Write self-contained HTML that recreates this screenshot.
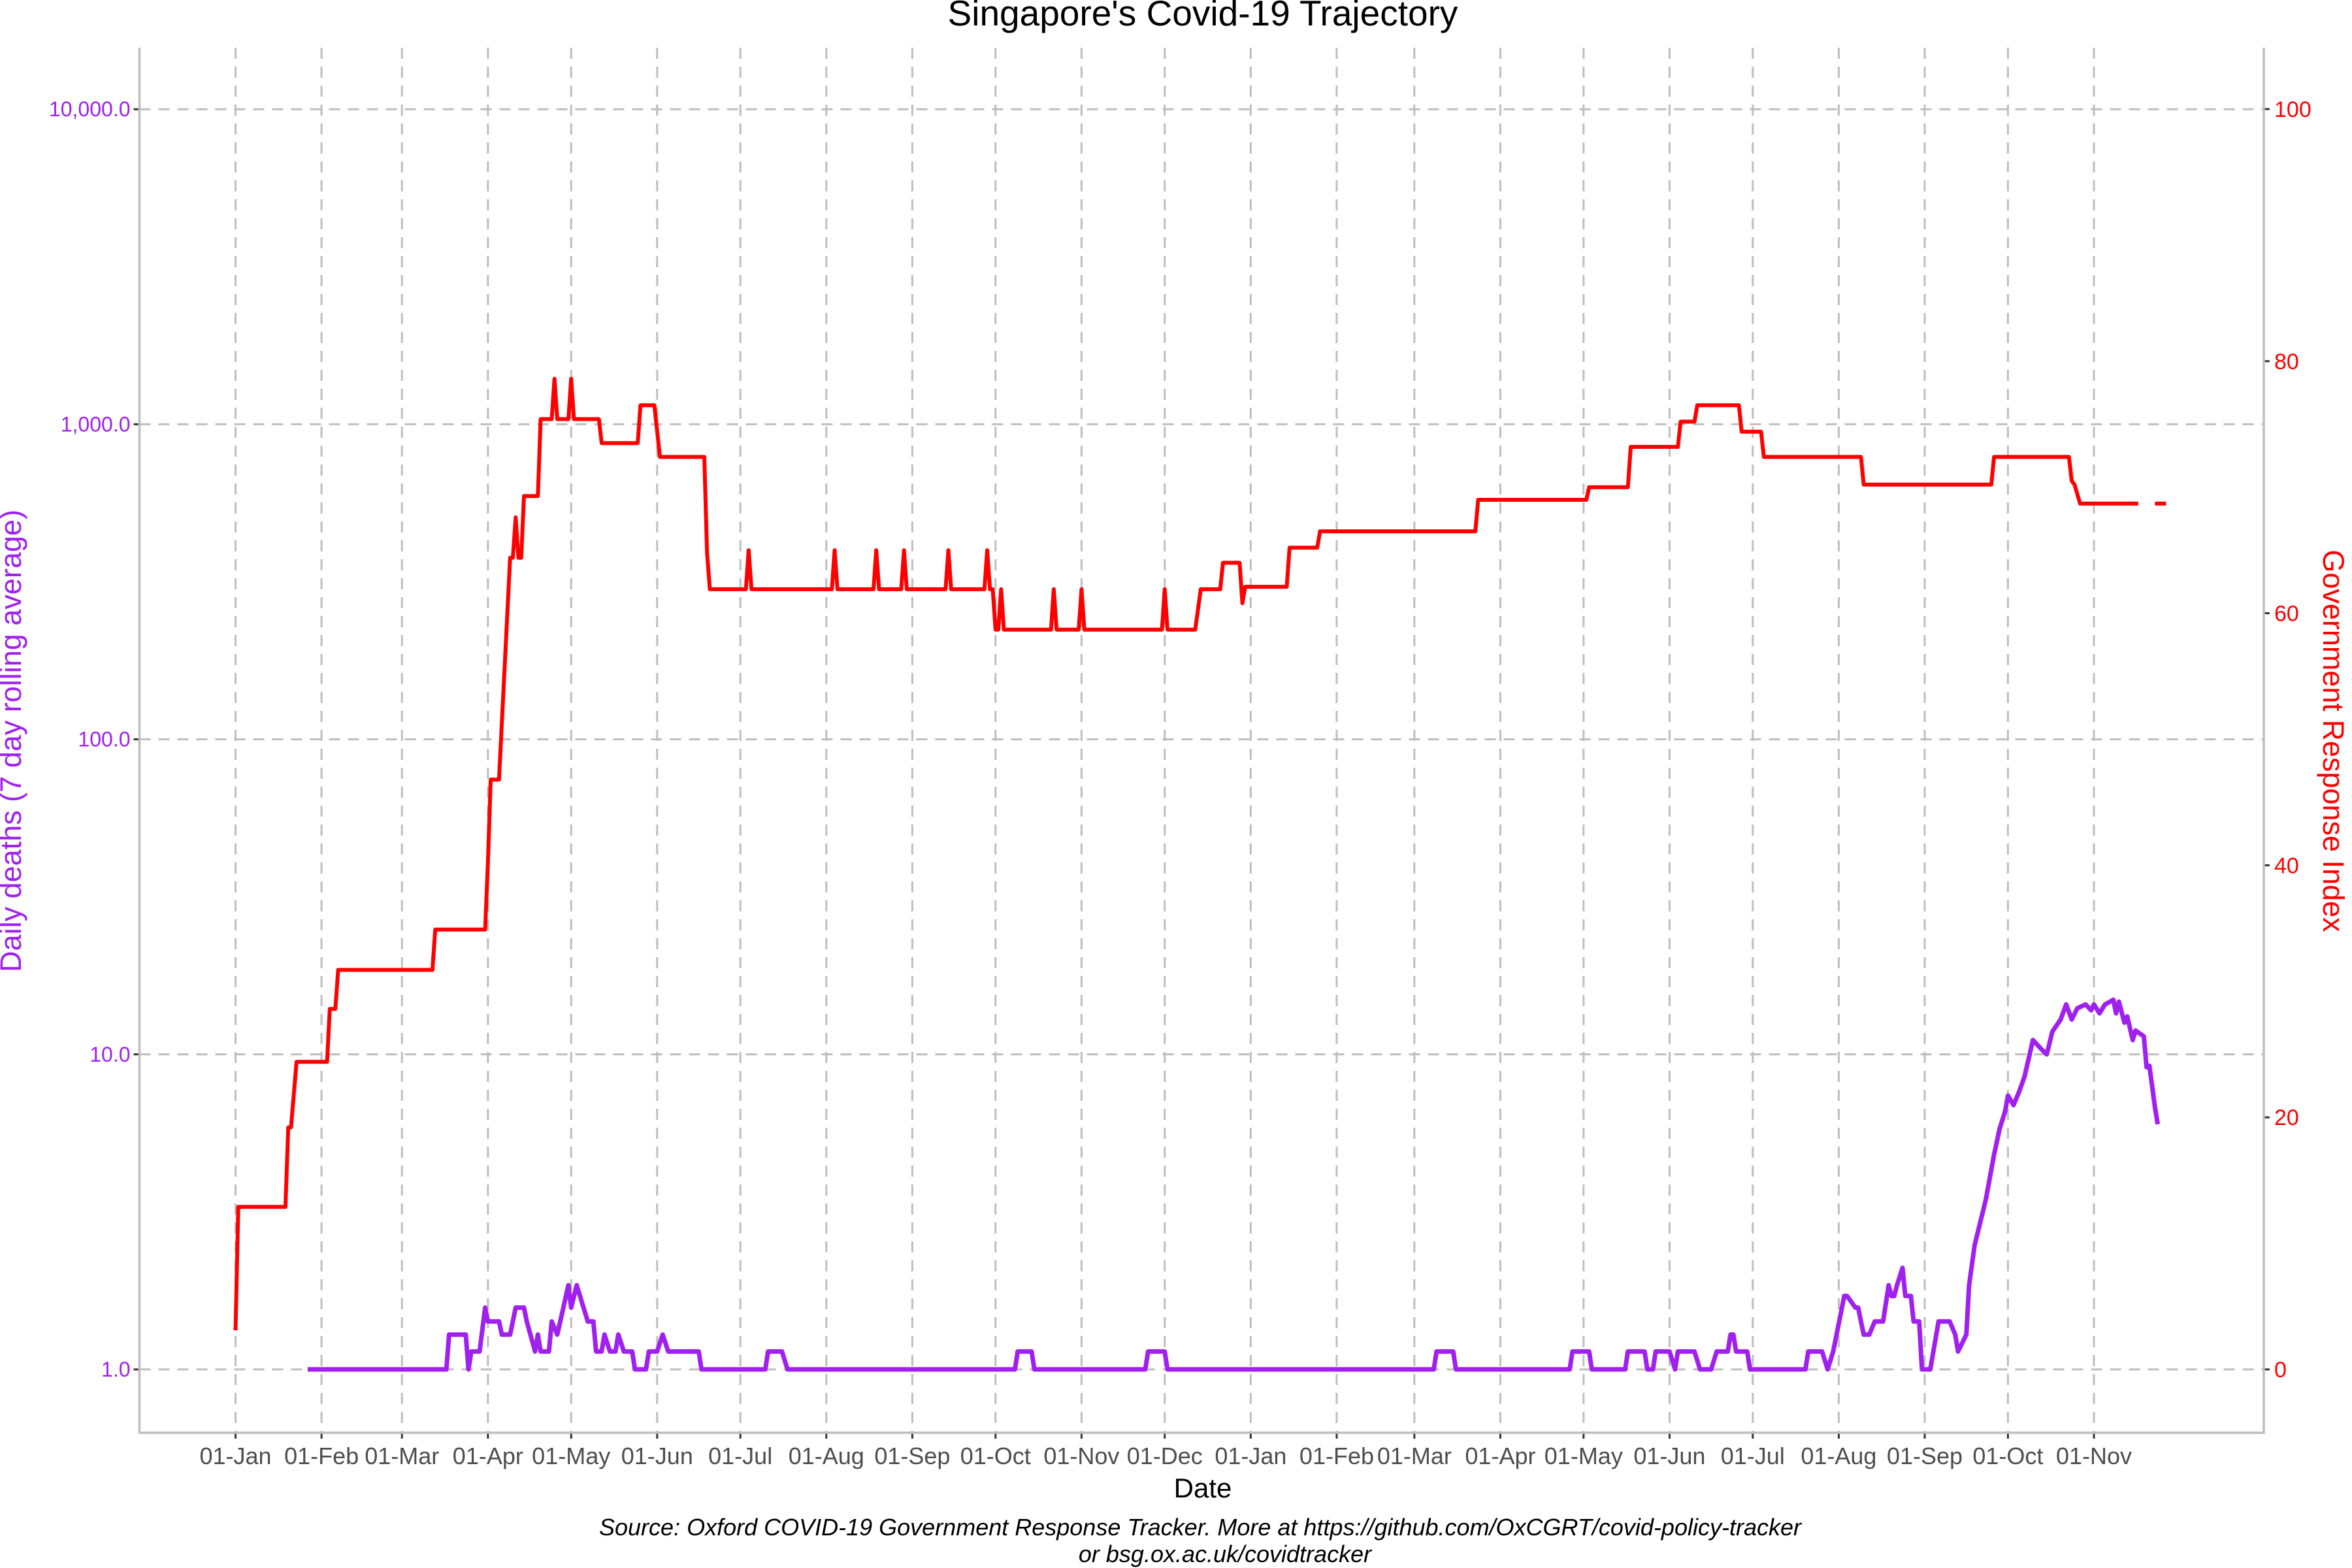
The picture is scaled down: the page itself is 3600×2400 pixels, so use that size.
<!DOCTYPE html>
<html><head><meta charset="utf-8"><style>
html,body{margin:0;padding:0;background:#fff}
svg{display:block}
text{font-family:"Liberation Sans",sans-serif}
</style></head><body>
<svg id="chart" width="3600" height="2400" viewBox="0 0 3600 2400" xmlns="http://www.w3.org/2000/svg">
<text x="1841" y="39" font-size="55" text-anchor="middle" fill="#000">Singapore's Covid-19 Trajectory</text>
<g id="grid"></g>
<g id="axes"></g>
<g id="series"></g>
<text x="1841" y="2292" font-size="42" text-anchor="middle" fill="#000">Date</text>
<text transform="translate(32,1134) rotate(-90)" font-size="45" text-anchor="middle" fill="#a020f0">Daily deaths (7 day rolling average)</text>
<text transform="translate(3556,1134) rotate(90)" font-size="45" text-anchor="middle" fill="#ff0000">Government Response Index</text>
<text x="1837" y="2350" font-size="36" font-style="italic" text-anchor="middle" fill="#000">Source: Oxford COVID-19 Government Response Tracker. More at https://github.com/OxCGRT/covid-policy-tracker</text>
<text x="1875" y="2391" font-size="36" font-style="italic" text-anchor="middle" fill="#000">or bsg.ox.ac.uk/covidtracker</text>
</svg>
<script>
const xTickDays=[0,31,60,91,121,152,182,213,244,274,305,335,366,397,425,456,486,517,547,578,609,639,670];
const xTickLabels=["01-Jan","01-Feb","01-Mar","01-Apr","01-May","01-Jun","01-Jul","01-Aug","01-Sep","01-Oct","01-Nov","01-Dec","01-Jan","01-Feb","01-Mar","01-Apr","01-May","01-Jun","01-Jul","01-Aug","01-Sep","01-Oct","01-Nov"];
const leftTicks=[1,10,100,1000,10000];
const leftTickLabels=["1.0","10.0","100.0","1,000.0","10,000.0"];
const rightTicks=[0,20,40,60,80,100];
const deathDays=[26,76,77,83,84,85,88,90,91,95,96,99,101,104,105,108,109,110,113,114,116,120,121,123,127,129,130,132,133,135,137,138,140,143,144,148,149,152,154,156,167,168,191,192,197,199,281,282,287,288,328,329,335,336,432,433,439,440,481,482,488,489,501,502,508,509,511,512,517,519,520,526,528,532,534,538,539,540,541,545,546,566,567,572,574,576,580,581,584,585,586,587,589,591,594,596,597,598,599,601,602,604,605,607,608,611,614,618,620,621,624,625,627,631,633,634,636,638,639,641,643,645,648,651,653,655,658,660,662,664,667,669,670,672,674,677,678,679,681,682,684,685,688,689,690,692,693];
const deathValues=[1,1,1.29,1.29,1,1.14,1.14,1.57,1.42,1.42,1.29,1.29,1.57,1.57,1.42,1.14,1.29,1.14,1.14,1.42,1.29,1.85,1.57,1.85,1.42,1.42,1.14,1.14,1.29,1.14,1.14,1.29,1.14,1.14,1,1,1.14,1.14,1.29,1.14,1.14,1,1,1.14,1.14,1,1,1.14,1.14,1,1,1.14,1.14,1,1,1.14,1.14,1,1,1.14,1.14,1,1,1.14,1.14,1,1,1.14,1.14,1,1.14,1.14,1,1,1.14,1.14,1.29,1.29,1.14,1.14,1,1,1.14,1.14,1,1.14,1.71,1.71,1.57,1.57,1.42,1.29,1.29,1.42,1.42,1.85,1.71,1.71,1.85,2.1,1.71,1.71,1.42,1.42,1,1,1.42,1.42,1.29,1.14,1.29,1.85,2.48,3.45,4.3,4.8,5.8,6.6,7.4,6.9,7.6,8.5,11.1,10.4,10,11.8,12.9,14.4,12.9,14,14.4,13.8,14.4,13.5,14.4,14.9,13.5,14.7,12.6,13.2,11.1,11.9,11.4,9.1,9.2,6.8,6.0];
const indexDays=[0,1,18,19,20,22,33,34,36,37,71,72,90,91,92,95,99,100,101,102,103,104,109,110,114,115,116,120,121,122,131,132,145,146,151,153,169,170,171,184,185,186,215,216,217,230,231,232,240,241,242,256,257,258,270,271,272,273,274,275,276,277,294,295,296,304,305,306,334,335,336,346,348,355,356,362,363,364,379,380,390,391,447,448,487,488,502,503,520,521,526,527,542,543,550,551,586,587,633,634,661,662,663,665,686,689,692,696];
const indexValues=[3.1,12.9,12.9,19.2,19.2,24.4,24.4,28.6,28.6,31.7,31.7,34.9,34.9,40.2,46.8,46.8,64.4,64.4,67.6,64.4,64.4,69.3,69.3,75.4,75.4,78.6,75.4,75.4,78.6,75.4,75.4,73.5,73.5,76.5,76.5,72.4,72.4,64.8,61.9,61.9,65,61.9,61.9,65,61.9,61.9,65,61.9,61.9,65,61.9,61.9,65,61.9,61.9,65,61.9,61.9,58.7,58.7,61.9,58.7,58.7,61.9,58.7,58.7,61.9,58.7,58.7,61.9,58.7,58.7,61.9,61.9,64,64,60.8,62.1,62.1,65.2,65.2,66.5,66.5,69,69,70,70,73.2,73.2,75.2,75.2,76.5,76.5,74.4,74.4,72.4,72.4,70.2,70.2,72.4,72.4,70.5,70.2,68.7,68.7,null,68.7,68.7];

const NS="http://www.w3.org/2000/svg";
const L=213.5,R=3465,T=73,B=2193;
function xScale(d){return 360.5+d*4.2455;}
function yLog(v){return 2096-Math.log10(v)*482.2;}
function yRight(v){return 2096-v*19.29;}
function mk(tag,attrs,parent){const e=document.createElementNS(NS,tag);for(const k in attrs)e.setAttribute(k,attrs[k]);parent.appendChild(e);return e;}
const grid=document.getElementById('grid'),axes=document.getElementById('axes'),series=document.getElementById('series');
const gs={stroke:"#bebebe","stroke-width":3,"stroke-dasharray":"17,12",fill:"none"};
xTickDays.forEach((d,i)=>{
  const x=xScale(d);
  const g=mk('line',Object.assign({x1:x,x2:x,y1:T,y2:B},gs),grid);
  
  
  const t=mk('line',{x1:x,x2:x,y1:B,y2:B+9,stroke:"#333","stroke-width":3},axes);
  
  
  const lb=mk('text',{x:x,y:2241,"font-size":36,"text-anchor":"middle",fill:"#4d4d4d"},axes);
  lb.textContent=xTickLabels[i];
  
  
});
leftTicks.forEach((v,i)=>{
  const y=yLog(v);
  const g=mk('line',Object.assign({x1:L,x2:R,y1:y,y2:y},gs),grid);
  
  
  const t=mk('line',{x1:L-9,x2:L,y1:y,y2:y,stroke:"#333","stroke-width":3},axes);
  
  
  const lb=mk('text',{x:L-14,y:y+11,"font-size":32,"text-anchor":"end",fill:"#a020f0"},axes);
  lb.textContent=leftTickLabels[i];
  
  
});
rightTicks.forEach(v=>{
  const y=yRight(v);
  const t=mk('line',{x1:R,x2:R+9,y1:y,y2:y,stroke:"#333","stroke-width":3},axes);
  
  
  const lb=mk('text',{x:R+16,y:y+12,"font-size":34,"text-anchor":"start",fill:"#ff0000"},axes);
  lb.textContent=String(v);
  
  
});
const frame=mk('path',{d:`M${L},${T}V${B}H${R}V${T}`,stroke:"#bebebe","stroke-width":3.5,fill:"none"},axes);



let d1="",pen=false;
indexDays.forEach((d,i)=>{const v=indexValues[i];if(v===null){pen=false;return;}d1+=(pen?"L":"M")+xScale(d).toFixed(1)+","+yRight(v).toFixed(1);pen=true;});
const red=mk('path',{d:d1,stroke:"#ff0000","stroke-width":6,fill:"none","stroke-linejoin":"round"},series);


let d2="";
deathDays.forEach((d,i)=>{d2+=(i?"L":"M")+xScale(d).toFixed(1)+","+yLog(deathValues[i]).toFixed(1);});
const pur=mk('path',{d:d2,stroke:"#a020f0","stroke-width":7,fill:"none","stroke-linejoin":"round"},series);


</script>
</body></html>
